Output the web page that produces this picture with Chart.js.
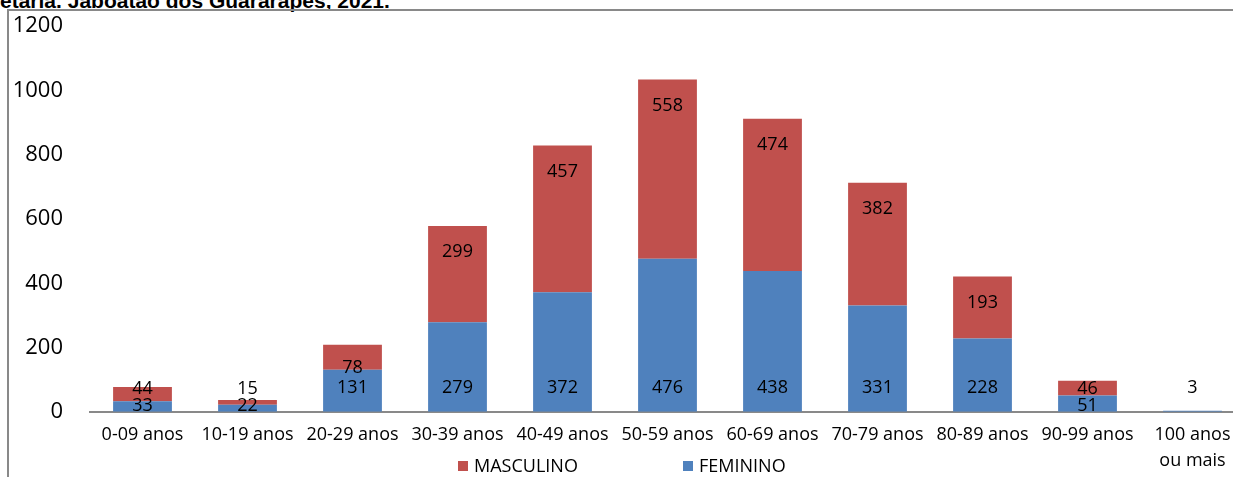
<!DOCTYPE html>
<html lang="pt-BR">
<head>
<meta charset="utf-8">
<title>Óbitos por sexo e faixa etária</title>
<script src="https://cdn.jsdelivr.net/npm/chart.js@4/dist/chart.umd.min.js"></script>
<style>
  html, body { margin: 0; padding: 0; background: #fff; overflow: hidden; width: 1233px; height: 477px; }
  .titulo {
    position: absolute; left: 0; top: -11px; white-space: nowrap;
    font: bold 21px "Liberation Sans", Arial, sans-serif; color: #000;
  }
  .moldura {
    position: absolute; left: 7px; top: 9px; width: 1240px; height: 480px;
    border-top: 2px solid #898989; border-left: 2px solid #898989;
  }
  .grafico { position: absolute; left: 0; top: -14px; width: 1250px; height: 490px; }
  .legenda {
    position: absolute; top: 454px; left: 0; width: 1233px; height: 22px;
    font: 18px "Open Sans", sans-serif; color: #000;
  }
  .legenda span { position: absolute; top: 0; line-height: 22px; }
  .legenda i { display: inline-block; width: 10px; height: 10px; margin-right: 6px; vertical-align: 1px; }
</style>
</head>
<body>
<div class="titulo">etária. Jaboatão dos Guararapes, 2021.</div>
<div class="moldura"></div>
<div class="grafico"><canvas id="chart" width="1250" height="490"></canvas></div>
<div class="legenda">
  <span style="left:458px"><i style="background:#C0504D"></i>MASCULINO</span>
  <span style="left:683px"><i style="background:#4F81BD"></i>FEMININO</span>
</div>

<script>
const categorias = ['0-09 anos', '10-19 anos', '20-29 anos', '30-39 anos', '40-49 anos', '50-59 anos',
  '60-69 anos', '70-79 anos', '80-89 anos', '90-99 anos', ['100 anos', 'ou mais']]
const feminino = [33, 22, 131, 279, 372, 476, 438, 331, 228, 51, 3]
const masculino = [44, 15, 78, 299, 457, 558, 474, 382, 193, 46, 0]
const ticksY = [0, 200, 400, 600, 800, 1000, 1200]

const corFem = '#4F81BD'
const corMasc = '#C0504D'
const fonte = '"Open Sans", sans-serif'

// Rótulos de dados no estilo do Excel (base para feminino, topo para masculino)
const rotulos = {
  id: 'rotulos',
  afterDatasetsDraw(chart) {
    const ctx = chart.ctx
    const y = chart.scales.y
    const zero = y.getPixelForValue(0)
    const metaFem = chart.getDatasetMeta(0)
    const metaMasc = chart.getDatasetMeta(1)

    ctx.save()
    ctx.font = '18px ' + fonte
    ctx.fillStyle = '#000'
    ctx.textAlign = 'center'
    ctx.textBaseline = 'middle'

    metaFem.data.forEach((bar, i) => {
      const altura = zero - bar.y
      var yFem = (altura >= 40 || masculino[i] == 0) ? zero - 24 : zero - 6
      ctx.fillText(feminino[i], bar.x, yFem)

      if (masculino[i] == 0) return
      const barM = metaMasc.data[i]
      const alturaM = barM.base - barM.y
      var yMasc
      if (alturaM >= 50) yMasc = barM.y + 26
      else yMasc = Math.min(barM.base - 2, yFem - 17)
      ctx.fillText(masculino[i], barM.x, yMasc)
    })
    ctx.restore()
  }
}

new Chart(document.getElementById('chart'), {
  type: 'bar',
  data: {
    labels: categorias,
    datasets: [
      { label: 'FEMININO', data: feminino, backgroundColor: corFem, barPercentage: 0.56, categoryPercentage: 1 },
      { label: 'MASCULINO', data: masculino, backgroundColor: corMasc, barPercentage: 0.56, categoryPercentage: 1 }
    ]
  },
  options: {
    responsive: false,
    animation: false,
    layout: { padding: { top: 0, right: 5, left: 0, bottom: 0 } },
    plugins: {
      legend: { display: false },
      tooltip: { enabled: false }
    },
    scales: {
      x: {
        stacked: true,
        grid: { display: false },
        border: { display: true, color: '#898989', width: 2 },
        ticks: { color: '#000', font: { family: fonte, size: 18, lineHeight: 1.45 }, maxRotation: 0, autoSkip: false, padding: 2 }
      },
      y: {
        stacked: true,
        min: 0,
        max: 1200,
        grid: { display: false, drawTicks: false },
        border: { display: false },
        afterBuildTicks: (scale) => { scale.ticks = ticksY.map(v => ({ value: v })) },
        afterFit: (scale) => { scale.width = 90 },
        ticks: { color: '#000', font: { family: fonte, size: 22 }, padding: 27, callback: (v) => String(v) }
      }
    }
  },
  plugins: [rotulos]
})
</script>
</body>
</html>
